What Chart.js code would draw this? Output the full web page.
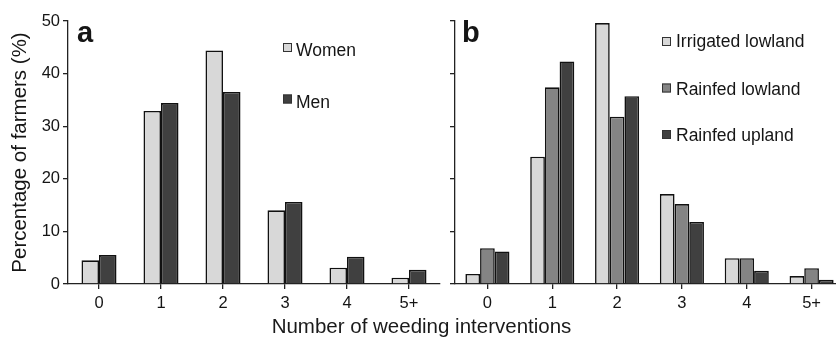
<!DOCTYPE html>
<html>
<head>
<meta charset="utf-8">
<script src="https://cdn.jsdelivr.net/npm/chart.js@4.4.0/dist/chart.umd.min.js"></script>
<style>
  html, body { margin: 0; padding: 0; background: #fff; width: 836px; height: 339px; overflow: hidden; }
  #wrap { position: relative; width: 836px; height: 339px; overflow: hidden; }
  #chartA { position: absolute; left: 0; top: 0; }
  #chartB { position: absolute; left: 440px; top: 0; }
  #xtitle {
    position: absolute; left: 0; top: 316px; width: 843px; text-align: center;
    font: 20.5px "Liberation Sans", Arial, sans-serif; line-height: 20px; color: #1a1a1a;
  }
</style>
</head>
<body>
<div id="wrap">
  <canvas id="chartA" width="445" height="339"></canvas>
  <canvas id="chartB" width="420" height="339"></canvas>
  <div id="xtitle">Number of weeding interventions</div>
</div>
<script>
// Number of weeding interventions (categories)
const categories = ['0', '1', '2', '3', '4', '5+'];

// Panel a: share of farmers (%) by gender
const women = [4.5, 32.9, 44.4, 14.0, 3.1, 1.2];
const men   = [5.5, 34.4, 36.5, 15.6, 5.2, 2.7];

// Panel b: share of farmers (%) by rice-growing environment
const irrigatedLowland = [1.9, 24.2, 49.6, 17.1, 4.9, 1.5];
const rainfedLowland   = [6.8, 37.4, 31.8, 15.2, 4.9, 3.0];
const rainfedUpland    = [6.2, 42.3, 35.7, 11.8, 2.5, 0.8];

// Y-axis tick values
const yTicks = [0, 10, 20, 30, 40, 50];

const seriesNamesA = ['Women', 'Men'];
const seriesNamesB = ['Irrigated lowland', 'Rainfed lowland', 'Rainfed upland'];

const FONT = '"Liberation Sans", Arial, Helvetica, sans-serif';
const INK = '#151515';
const AXIS = '#222222';
const LIGHT = '#d8d8d8';
const MID = '#848484';
const DARK = '#404040';

Chart.defaults.font.family = FONT;
Chart.defaults.color = INK;

// Panel letter and in-plot legend
const panelDecor = {
  id: 'panelDecor',
  afterDraw(chart, args, opts) {
    const ctx = chart.ctx;
    ctx.save();
    ctx.fillStyle = INK;
    ctx.font = 'bold 29px ' + FONT;
    ctx.textBaseline = 'alphabetic';
    ctx.textAlign = 'left';
    ctx.fillText(opts.letter, opts.letterX, opts.letterY);

    ctx.font = '17.5px ' + FONT;
    opts.items.forEach((name, i) => {
      const ds = chart.data.datasets[i];
      const top = opts.boxTops[i];
      ctx.fillStyle = ds.backgroundColor;
      ctx.fillRect(opts.boxX, top, 9, 9);
      ctx.strokeStyle = '#333';
      ctx.lineWidth = 1;
      ctx.strokeRect(opts.boxX + 0.5, top + 0.5, 8, 8);
      ctx.fillStyle = INK;
      ctx.fillText(name, opts.textX, opts.baselines[i]);
    });
    ctx.restore();
  }
};

function axisX() {
  return {
    type: 'category',
    offset: true,
    grid: { display: true, drawOnChartArea: false, drawTicks: true, tickLength: 5, offset: false, color: AXIS, lineWidth: 1.3 },
    border: { display: true, color: AXIS, width: 1.3 },
    ticks: { font: { size: 16.5 }, color: INK, padding: 5, maxRotation: 0 },
    afterFit: s => { s.height = 55; }
  };
}

function axisY(showLabels, width) {
  return {
    min: 0, max: 50,
    afterBuildTicks: s => { s.ticks = yTicks.map(v => ({ value: v })); },
    grid: { display: true, drawOnChartArea: false, drawTicks: true, tickLength: 5, color: AXIS, lineWidth: 1.3 },
    border: { display: true, color: AXIS, width: 1.3 },
    ticks: { display: showLabels, font: { size: 16.5 }, color: INK, padding: 3 },
    title: showLabels ? {
      display: true, text: 'Percentage of farmers (%)',
      font: { size: 20.5 }, color: INK, padding: { top: 8, bottom: 0 }
    } : { display: false },
    afterFit: s => { s.width = width; }
  };
}

function barSet(label, data, color) {
  return {
    label, data,
    backgroundColor: color,
    borderColor: '#111111',
    borderWidth: 1.6,
    borderSkipped: 'bottom'
  };
}

new Chart(document.getElementById('chartA'), {
  type: 'bar',
  data: {
    labels: categories,
    datasets: [
      barSet(seriesNamesA[0], women, LIGHT),
      barSet(seriesNamesA[1], men, DARK)
    ]
  },
  options: {
    responsive: false,
    animation: false,
    datasets: { bar: { barPercentage: 1, categoryPercentage: 0.565 } },
    layout: { padding: { top: 21, right: 5, left: 0, bottom: 0 } },
    scales: { x: axisX(), y: axisY(true, 68) },
    plugins: {
      legend: { display: false },
      tooltip: { enabled: false },
      panelDecor: {
        letter: 'a', letterX: 77, letterY: 42,
        items: seriesNamesA,
        boxX: 283, boxTops: [43, 94.5], textX: 296, baselines: [56, 107.5]
      }
    }
  },
  plugins: [panelDecor]
});

new Chart(document.getElementById('chartB'), {
  type: 'bar',
  data: {
    labels: categories,
    datasets: [
      barSet(seriesNamesB[0], irrigatedLowland, LIGHT),
      barSet(seriesNamesB[1], rainfedLowland, MID),
      barSet(seriesNamesB[2], rainfedUpland, DARK)
    ]
  },
  options: {
    responsive: false,
    animation: false,
    datasets: { bar: { barPercentage: 1, categoryPercentage: 0.68 } },
    layout: { padding: { top: 21, right: 16, left: 0, bottom: 0 } },
    scales: { x: axisX(), y: axisY(false, 15) },
    plugins: {
      legend: { display: false },
      tooltip: { enabled: false },
      panelDecor: {
        letter: 'b', letterX: 22, letterY: 42,
        items: seriesNamesB,
        boxX: 222, boxTops: [37, 83.5, 130], textX: 236, baselines: [47, 94.5, 141]
      }
    }
  },
  plugins: [panelDecor]
});
</script>
</body>
</html>
